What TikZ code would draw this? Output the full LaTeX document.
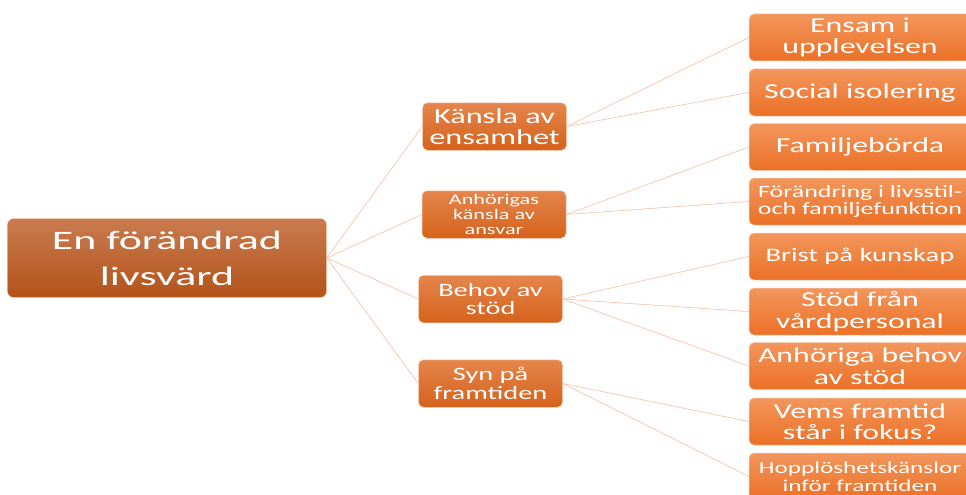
\documentclass[tikz,border=0pt]{standalone}
\usepackage{fontspec}
\setmainfont{Carlito}
\newfontfamily\rotfont[FakeStretch=1.65]{Carlito}
\newfontfamily\vidfont[FakeStretch=1.5]{Carlito}
\usepackage{tikz}

\definecolor{rotTop}{HTML}{C97B4F}
\definecolor{rotBot}{HTML}{B3531A}
\definecolor{grenTop}{HTML}{E5854C}
\definecolor{grenBot}{HTML}{D5621B}
\definecolor{lovTop}{HTML}{F3965C}
\definecolor{lovBot}{HTML}{EB7026}
\definecolor{kant}{HTML}{F7CDB3}
\definecolor{linjefarg}{HTML}{F7C5B0}

\tikzset{
  rot/.style = {rounded corners=6pt, top color=rotTop, bottom color=rotBot, draw=kant, line width=0.5pt,
                text=white, align=center, inner sep=0pt, minimum width=319pt, minimum height=79pt,
                font=\rotfont\fontsize{26.6}{36}\selectfont},
  gren/.style = {rounded corners=5pt, top color=grenTop, bottom color=grenBot, draw=kant, line width=0.5pt,
                 text=white, align=center, inner sep=0pt, minimum width=144pt, minimum height=47.5pt,
                 font=\vidfont\fontsize{18.9}{18.3}\selectfont},
  lov/.style = {rounded corners=5pt, top color=lovTop, bottom color=lovBot, draw=kant, line width=0.5pt,
                text=white, align=center, inner sep=0pt, minimum width=222pt, minimum height=47pt,
                font=\vidfont\fontsize{21.2}{21.5}\selectfont},
  linje/.style = {draw=linjefarg, line width=0.7pt}
}

\begin{document}
\begin{tikzpicture}[x=1pt, y=-1pt]
  \useasboundingbox (0,0) rectangle (966,495);
  \clip (0,0) rectangle (966,495);

  % Rot
  \node[rot] (rot) at (167,258) {En förändrad\\livsvärd};

  % Grenar
  \node[gren, font=\vidfont\fontsize{21.5}{21.6}\selectfont] (kansla) at (494.5,126.5) {Känsla av\\ensamhet};
  \node[gren, font=\vidfont\fontsize{14.8}{15.3}\selectfont] (ansvar) at (494,214.5) {Anhörigas\\känsla av\\ansvar};
  \node[gren] (behov) at (490.5,299) {Behov av\\stöd};
  \node[gren] (syn) at (490.5,383.5) {Syn på\\framtiden};

  % Löv
  \node[lov] (ensam) at (860,37.5) {Ensam i\\upplevelsen};
  \node[lov] (social) at (860,92.5) {Social isolering};
  \node[lov] (borda) at (860,147) {Familjebörda};
  \node[lov, font=\vidfont\fontsize{17.3}{16.8}\selectfont] (livsstil) at (860,201.5) {Förändring i livsstil-\\och familjefunktion};
  \node[lov, font=\vidfont\fontsize{19}{18}\selectfont] (brist) at (860,256.5) {Brist på kunskap};
  \node[lov] (vard) at (860,311.5) {Stöd från\\vårdpersonal};
  \node[lov] (anhbehov) at (860,366) {Anhöriga behov\\av stöd};
  \node[lov] (vems) at (860,421.5) {Vems framtid\\står i fokus?};
  \node[lov, font=\vidfont\fontsize{16.8}{17.5}\selectfont] (hopp) at (860,476.5) {Hopplöshetskänslor\\inför framtiden};

  % Linjer
  \draw[linje] (rot.east) -- (kansla.west);
  \draw[linje] (rot.east) -- (ansvar.west);
  \draw[linje] (rot.east) -- (behov.west);
  \draw[linje] (rot.east) -- (syn.west);
  \draw[linje] (kansla.east) -- (ensam.west);
  \draw[linje] (kansla.east) -- (social.west);
  \draw[linje] (ansvar.east) -- (borda.west);
  \draw[linje] (ansvar.east) -- (livsstil.west);
  \draw[linje] (behov.east) -- (brist.west);
  \draw[linje] (behov.east) -- (vard.west);
  \draw[linje] (behov.east) -- (anhbehov.west);
  \draw[linje] (syn.east) -- (vems.west);
  \draw[linje] (syn.east) -- (hopp.west);
\end{tikzpicture}
\end{document}
